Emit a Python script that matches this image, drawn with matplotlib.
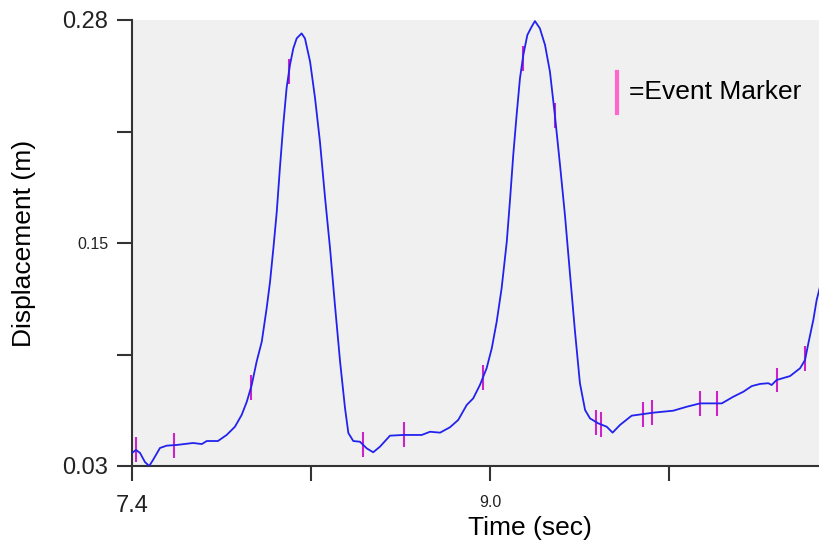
import numpy as np
import matplotlib
matplotlib.use("Agg")
import matplotlib.pyplot as plt

plt.rcParams['font.family'] = ['Liberation Sans', 'DejaVu Sans']

# displacement trace (time in sec, displacement in m)
time_s = [7.400, 7.418, 7.436, 7.458, 7.477, 7.494, 7.525, 7.555, 7.600, 7.673,
          7.712, 7.734, 7.784, 7.823, 7.860, 7.890, 7.913, 7.935, 7.957, 7.980,
          8.002, 8.017, 8.032, 8.047, 8.061, 8.076, 8.091, 8.106, 8.121, 8.136,
          8.158, 8.173, 8.196, 8.218, 8.240, 8.263, 8.285, 8.307, 8.330, 8.352,
          8.367, 8.389, 8.419, 8.449, 8.478, 8.508, 8.553, 8.613, 8.695, 8.732,
          8.777, 8.821, 8.858, 8.896, 8.925, 8.955, 8.985, 9.008, 9.030, 9.052,
          9.075, 9.089, 9.104, 9.119, 9.134, 9.149, 9.167, 9.186, 9.201, 9.223,
          9.246, 9.268, 9.290, 9.313, 9.335, 9.358, 9.380, 9.402, 9.425, 9.447,
          9.484, 9.522, 9.548, 9.581, 9.633, 9.678, 9.730, 9.819, 9.879, 9.939,
          10.036, 10.087, 10.132, 10.170, 10.207, 10.244, 10.259, 10.281, 10.341, 10.386,
          10.408, 10.423, 10.445, 10.460, 10.475]
disp_m = [0.0373, 0.0390, 0.0373, 0.0322, 0.0300, 0.0334, 0.0401, 0.0414, 0.0418, 0.0429,
          0.0423, 0.0440, 0.0440, 0.0474, 0.0520, 0.0586, 0.0660, 0.0754, 0.0885, 0.0997,
          0.1186, 0.1333, 0.1522, 0.1725, 0.1970, 0.2211, 0.2419, 0.2548, 0.2641, 0.2697,
          0.2725, 0.2697, 0.2566, 0.2363, 0.2118, 0.1802, 0.1522, 0.1203, 0.0885, 0.0625,
          0.0485, 0.0440, 0.0436, 0.0399, 0.0377, 0.0408, 0.0470, 0.0474, 0.0474, 0.0492,
          0.0487, 0.0517, 0.0558, 0.0642, 0.0679, 0.0754, 0.0848, 0.0960, 0.1109, 0.1296,
          0.1557, 0.1782, 0.2043, 0.2267, 0.2473, 0.2604, 0.2716, 0.2762, 0.2794, 0.2753,
          0.2660, 0.2510, 0.2267, 0.1987, 0.1707, 0.1371, 0.1053, 0.0764, 0.0614, 0.0567,
          0.0539, 0.0520, 0.0487, 0.0530, 0.0582, 0.0590, 0.0599, 0.0610, 0.0632, 0.0651,
          0.0651, 0.0688, 0.0716, 0.0748, 0.0760, 0.0764, 0.0754, 0.0782, 0.0804, 0.0848,
          0.0894, 0.0988, 0.1118, 0.1230, 0.1305]

# event marker times
event_times = [7.418, 7.588, 7.932, 8.102, 8.432, 8.616, 8.969, 9.147, 9.290,
               9.474, 9.495, 9.682, 9.725, 9.939, 10.013, 10.281, 10.409]

x_ticks = [7.4, 8.2, 9.0, 9.8]
x_tick_labels = ["7.4", "", "9.0", ""]
y_ticks = [0.03, 0.0925, 0.155, 0.2175, 0.28]
y_tick_labels = ["0.03", "", "0.15", "", "0.28"]

fig = plt.figure(figsize=(8.2, 5.46), dpi=100)
ax = fig.add_axes([132 / 820, 80 / 546, 688 / 820, 446 / 546])
ax.set_facecolor("#f0f0f0")

# event markers: short vertical ticks centred on the trace
ev_y = np.interp(event_times, time_s, disp_m)
half = 0.007
ax.vlines(event_times, ev_y - half, ev_y + half, color="#cc22cc", lw=1.5, zorder=2)

ax.plot(time_s, disp_m, color="#2222ee", lw=1.3, zorder=3)

ax.set_xlim(7.4, 10.475)
ax.set_ylim(0.03, 0.28)

ax.spines['top'].set_visible(False)
ax.spines['right'].set_visible(False)
for s in ['left', 'bottom']:
    ax.spines[s].set_color("#333333")
    ax.spines[s].set_linewidth(1.5)

ax.set_xticks(x_ticks)
ax.set_xticklabels(x_tick_labels)
ax.set_yticks(y_ticks)
ax.set_yticklabels(y_tick_labels)
ax.tick_params(axis='both', direction='out', length=11, width=1.5, color="#333333")
ax.tick_params(axis='x', pad=10)
ax.tick_params(axis='y', pad=6)

big = {"7.4": 17, "0.03": 17, "0.28": 17, "9.0": 11.5, "0.15": 11.5}
for lab in ax.get_xticklabels() + ax.get_yticklabels():
    t = lab.get_text()
    if t in big:
        lab.set_fontsize(big[t])
        lab.set_color("#222222")

fig.text(24 / 820, 1 - 243 / 546, "Displacement (m)", rotation=90,
         ha='center', va='center', fontsize=19)
fig.text(530 / 820, 1 - 528 / 546, "Time (sec)", ha='center', va='center', fontsize=19)

# legend for the event marker
ax.plot([0.705, 0.705], [0.791, 0.883], transform=ax.transAxes,
        color="#ff66cc", lw=3, clip_on=False)
ax.text(0.722, 0.8386, "=Event Marker", transform=ax.transAxes,
        ha='left', va='center', fontsize=19)

fig.savefig("out.png", dpi=100)
